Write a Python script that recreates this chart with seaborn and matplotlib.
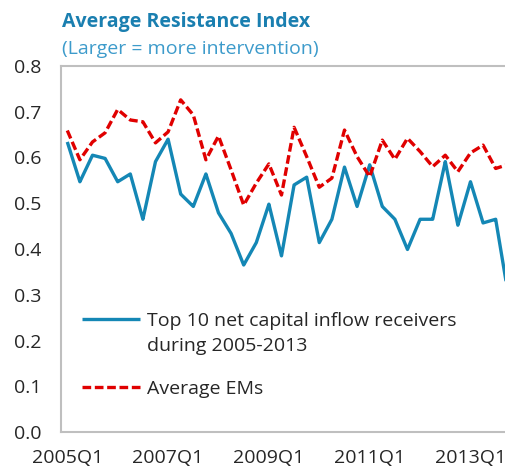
import numpy as np
import pandas as pd
import seaborn as sns
import matplotlib.pyplot as plt

# quarterly categories 2005Q1 .. 2013Q4
quarters = [f'{y}Q{q}' for y in range(2005, 2014) for q in range(1, 5)]

top10_receivers = [0.634, 0.547, 0.605, 0.598, 0.547, 0.564, 0.465, 0.591, 0.640,
                   0.520, 0.493, 0.564, 0.479, 0.434, 0.365, 0.414, 0.498, 0.385,
                   0.540, 0.557, 0.414, 0.465, 0.579, 0.493, 0.584, 0.493, 0.465,
                   0.399, 0.465, 0.465, 0.591, 0.452, 0.547, 0.457, 0.465, 0.300]

average_ems = [0.659, 0.595, 0.634, 0.654, 0.705, 0.682, 0.678, 0.632, 0.656,
               0.726, 0.693, 0.595, 0.647, 0.573, 0.496, 0.544, 0.586, 0.518,
               0.666, 0.602, 0.535, 0.555, 0.660, 0.602, 0.558, 0.638, 0.596,
               0.642, 0.613, 0.580, 0.605, 0.569, 0.610, 0.627, 0.576, 0.585]

label_quarters = ['2005Q1', '2007Q1', '2009Q1', '2011Q1', '2013Q1']

sns.set_style('white')
plt.rcParams['font.family'] = ['Open Sans', 'DejaVu Sans']

df = pd.DataFrame({'Quarter': np.arange(len(quarters)),
                   'Top 10 net capital inflow receivers': top10_receivers,
                   'Average EMs': average_ems})
long = df.melt(id_vars='Quarter', var_name='Series', value_name='Index')

fig = plt.figure(figsize=(5.05, 4.72), dpi=100)
ax = fig.add_axes([61 / 505, 1 - 432 / 472, 1 - 61 / 505, (432 - 66) / 472])

blue = '#1487B5'
red = '#E00000'
sns.lineplot(data=long, x='Quarter', y='Index', hue='Series', style='Series',
             palette=[blue, red], dashes=[(1, 0), (2.6, 1.1)],
             linewidth=2.4, ax=ax)

ax.set_xlim(-0.5, 34.74)
ax.set_ylim(0, 0.8)
ax.set_xlabel('')
ax.set_ylabel('')

# tick marks between categories, labels at category centres
ax.set_xticks([7.5, 15.5, 23.5, 31.5])
ax.set_xticklabels([])
ax.set_xticks([quarters.index(q) for q in label_quarters], minor=True)
ax.set_xticklabels(label_quarters, minor=True)
ax.tick_params(axis='x', which='major', direction='in', length=6, width=1.2, color='#BFBFBF')
ax.tick_params(axis='x', which='minor', length=0, pad=12, labelsize=14)

ax.set_yticks(np.arange(0, 0.81, 0.1))
ax.set_yticklabels([f'{v:.1f}' for v in np.arange(0, 0.81, 0.1)])
ax.tick_params(axis='y', direction='in', length=6, width=1.2, color='#BFBFBF', pad=14, labelsize=14)

for side in ['left', 'bottom', 'top']:
    ax.spines[side].set_color('#BFBFBF')
    ax.spines[side].set_linewidth(1.5)
ax.spines['right'].set_visible(False)

leg = ax.legend(loc='upper left', bbox_to_anchor=(0.007, 0.375), frameon=False,
                fontsize=14, handlelength=3.0, handletextpad=0.35, labelspacing=2.55)
leg.set_title(None)
fig.canvas.draw()
# second line of the first legend label, hanging under the first line
ax.annotate('during 2005-2013', xy=(0, 0), xycoords=leg.texts[0],
            xytext=(0, -5), textcoords='offset points', va='top', fontsize=14)

fig.text(62 / 505, 1 - 27 / 472, 'Average Resistance Index', color='#1A7FB0',
         fontsize=14, fontweight='bold', va='baseline')
fig.text(62 / 505, 1 - 54 / 472, '(Larger = more intervention)', color='#3D9BCB',
         fontsize=14, va='baseline')

plt.savefig('out.png', dpi=100)
